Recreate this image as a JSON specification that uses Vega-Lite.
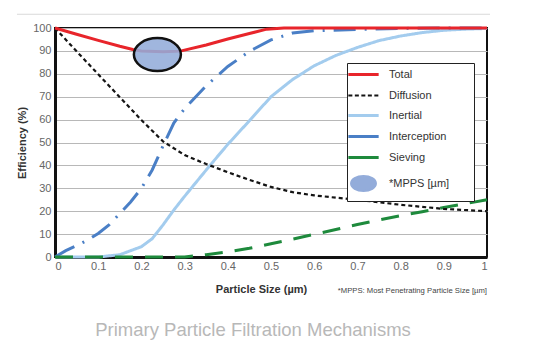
{
  "$schema": "https://vega.github.io/schema/vega-lite/v6.json",
  "width": 432,
  "height": 229,
  "autosize": {"type": "none"},
  "padding": {"left": 55, "top": 28, "right": 49, "bottom": 96},
  "background": "white",
  "config": {
    "view": {"stroke": "#111", "strokeWidth": 2},
    "font": "Liberation Sans",
    "axis": {
      "ticks": false,
      "domainColor": "#111",
      "domainWidth": 3,
      "labelFont": "Liberation Sans",
      "labelFontSize": 11,
      "labelColor": "#666",
      "titleFont": "Liberation Sans",
      "titleFontSize": 11,
      "titleFontWeight": "bold",
      "titleColor": "#333"
    },
    "axisX": {"grid": false, "labelPadding": 3, "titlePadding": 12},
    "axisY": {"grid": true, "gridColor": "#b8b8b8", "gridWidth": 1, "labelPadding": 4, "titlePadding": 5}
  },
  "title": {
    "text": "Primary Particle Filtration Mechanisms",
    "orient": "bottom",
    "anchor": "middle",
    "dx": -18,
    "offset": 26,
    "font": "Liberation Sans",
    "fontSize": 18.5,
    "fontWeight": "normal",
    "color": "#b8b8b8"
  },
  "datasets": {
    "curves": [
      {"s": "Total", "x": 0, "y": 100},
      {"s": "Total", "x": 0.05, "y": 97.3},
      {"s": "Total", "x": 0.1, "y": 94.6},
      {"s": "Total", "x": 0.15, "y": 92},
      {"s": "Total", "x": 0.18, "y": 90.6},
      {"s": "Total", "x": 0.2, "y": 90},
      {"s": "Total", "x": 0.25, "y": 89.6},
      {"s": "Total", "x": 0.29, "y": 89.9},
      {"s": "Total", "x": 0.35, "y": 92.6},
      {"s": "Total", "x": 0.4, "y": 95.2},
      {"s": "Total", "x": 0.45, "y": 97.6},
      {"s": "Total", "x": 0.49, "y": 99.5},
      {"s": "Total", "x": 0.53, "y": 100},
      {"s": "Total", "x": 0.7, "y": 100},
      {"s": "Total", "x": 1, "y": 100},
      {"s": "Diffusion", "x": 0, "y": 100},
      {"s": "Diffusion", "x": 0.05, "y": 89.8},
      {"s": "Diffusion", "x": 0.1, "y": 79.8},
      {"s": "Diffusion", "x": 0.15, "y": 69.8},
      {"s": "Diffusion", "x": 0.2, "y": 59.8},
      {"s": "Diffusion", "x": 0.25, "y": 50.5},
      {"s": "Diffusion", "x": 0.3, "y": 44.5},
      {"s": "Diffusion", "x": 0.35, "y": 40.6},
      {"s": "Diffusion", "x": 0.4, "y": 37},
      {"s": "Diffusion", "x": 0.45, "y": 33.7},
      {"s": "Diffusion", "x": 0.5, "y": 30.6},
      {"s": "Diffusion", "x": 0.55, "y": 28.3},
      {"s": "Diffusion", "x": 0.6, "y": 26.9},
      {"s": "Diffusion", "x": 0.65, "y": 25.9},
      {"s": "Diffusion", "x": 0.7, "y": 25},
      {"s": "Diffusion", "x": 0.8, "y": 22.8},
      {"s": "Diffusion", "x": 0.9, "y": 21},
      {"s": "Diffusion", "x": 1, "y": 20},
      {"s": "Inertial", "x": 0, "y": 0},
      {"s": "Inertial", "x": 0.1, "y": 0},
      {"s": "Inertial", "x": 0.15, "y": 1},
      {"s": "Inertial", "x": 0.2, "y": 4.5},
      {"s": "Inertial", "x": 0.225, "y": 8},
      {"s": "Inertial", "x": 0.25, "y": 14},
      {"s": "Inertial", "x": 0.275, "y": 20.5},
      {"s": "Inertial", "x": 0.3, "y": 26.5},
      {"s": "Inertial", "x": 0.35, "y": 38},
      {"s": "Inertial", "x": 0.4, "y": 49.2},
      {"s": "Inertial", "x": 0.45, "y": 59.5},
      {"s": "Inertial", "x": 0.5, "y": 70},
      {"s": "Inertial", "x": 0.55, "y": 77.5},
      {"s": "Inertial", "x": 0.6, "y": 83.5},
      {"s": "Inertial", "x": 0.65, "y": 88},
      {"s": "Inertial", "x": 0.7, "y": 91.5},
      {"s": "Inertial", "x": 0.75, "y": 94.5},
      {"s": "Inertial", "x": 0.8, "y": 96.5},
      {"s": "Inertial", "x": 0.85, "y": 98},
      {"s": "Inertial", "x": 0.9, "y": 99},
      {"s": "Inertial", "x": 0.95, "y": 99.5},
      {"s": "Inertial", "x": 1, "y": 99.8},
      {"s": "Interception", "x": 0, "y": 0},
      {"s": "Interception", "x": 0.025, "y": 2.8},
      {"s": "Interception", "x": 0.05, "y": 5},
      {"s": "Interception", "x": 0.075, "y": 7.3},
      {"s": "Interception", "x": 0.1, "y": 10.3},
      {"s": "Interception", "x": 0.125, "y": 14},
      {"s": "Interception", "x": 0.15, "y": 19},
      {"s": "Interception", "x": 0.175, "y": 24},
      {"s": "Interception", "x": 0.2, "y": 30},
      {"s": "Interception", "x": 0.225, "y": 38},
      {"s": "Interception", "x": 0.25, "y": 48.5},
      {"s": "Interception", "x": 0.275, "y": 58.5},
      {"s": "Interception", "x": 0.3, "y": 64.8},
      {"s": "Interception", "x": 0.35, "y": 74.8},
      {"s": "Interception", "x": 0.4, "y": 83.2},
      {"s": "Interception", "x": 0.45, "y": 89.8},
      {"s": "Interception", "x": 0.5, "y": 94.8},
      {"s": "Interception", "x": 0.55, "y": 97.8},
      {"s": "Interception", "x": 0.6, "y": 98.8},
      {"s": "Interception", "x": 0.7, "y": 99.4},
      {"s": "Interception", "x": 0.8, "y": 99.8},
      {"s": "Interception", "x": 0.9, "y": 100},
      {"s": "Interception", "x": 1, "y": 100},
      {"s": "Sieving", "x": 0, "y": 0},
      {"s": "Sieving", "x": 0.3, "y": 0},
      {"s": "Sieving", "x": 0.35, "y": 1},
      {"s": "Sieving", "x": 0.4, "y": 2.2},
      {"s": "Sieving", "x": 0.45, "y": 3.8},
      {"s": "Sieving", "x": 0.5, "y": 5.8},
      {"s": "Sieving", "x": 0.55, "y": 7.8},
      {"s": "Sieving", "x": 0.6, "y": 9.9},
      {"s": "Sieving", "x": 0.65, "y": 12},
      {"s": "Sieving", "x": 0.7, "y": 14.2},
      {"s": "Sieving", "x": 0.75, "y": 16.2},
      {"s": "Sieving", "x": 0.8, "y": 18},
      {"s": "Sieving", "x": 0.85, "y": 19.8},
      {"s": "Sieving", "x": 0.9, "y": 21.6},
      {"s": "Sieving", "x": 0.95, "y": 23.3},
      {"s": "Sieving", "x": 1, "y": 25}
    ],
    "mpps": [
      {"s": "*MPPS [µm]", "x": 0.237, "y": 88.4}
    ]
  },
  "layer": [
    {
      "data": {"name": "curves"},
      "transform": [{"filter": "datum.s === 'Sieving' || datum.s === 'Inertial' || datum.s === 'Interception'"}],
      "mark": {"type": "line", "strokeWidth": 3, "strokeCap": "butt", "clip": false},
      "encoding": {
        "x": {"field": "x", "type": "quantitative", "scale": {"domain": [0, 1], "nice": false, "zero": false},
          "axis": {"values": [0, 0.1, 0.2, 0.3, 0.4, 0.5, 0.6, 0.7, 0.8, 0.9, 1], "format": "~g", "title": "Particle Size (µm)", "titleX": 206}},
        "y": {"field": "y", "type": "quantitative", "scale": {"domain": [0, 100], "nice": false},
          "axis": {"values": [0, 10, 20, 30, 40, 50, 60, 70, 80, 90, 100], "title": "Efficiency (%)"}},
        "color": {
          "field": "s",
          "type": "nominal",
          "scale": {
            "domain": ["Total", "Diffusion", "Inertial", "Interception", "Sieving", "*MPPS [µm]"],
            "range": ["#e8252b", "#141414", "#a3ccee", "#4a7fc6", "#1e8a3c", "#93acda"]
          },
          "legend": {
            "title": "\u2003", "titleOrient": "right", "titleColor": "transparent", "titleFontSize": 11, "titlePadding": 19,
            "orient": "none", "legendX": 292, "legendY": 35,
            "strokeColor": "#222", "fillColor": "white", "padding": 6,
            "symbolSize": 300, "symbolOffset": 5, "labelOffset": 20, "rowPadding": 8,
            "labelFont": "Liberation Sans", "labelFontSize": 11, "labelColor": "#333",
            "encode": {"symbols": {"update": {
              "shape": {"signal": "datum.value === '*MPPS [µm]' ? 'M-1.45,0A1.45,0.88,0,1,1,1.45,0A1.45,0.88,0,1,1,-1.45,0Z' : 'M-1.75,0H1.75'"},
              "fill": {"signal": "datum.value === '*MPPS [µm]' ? '#a9bfe6' : 'transparent'"},
              "stroke": {"signal": "datum.value === '*MPPS [µm]' ? '#111111' : scale('color', datum.value)"},
              "strokeWidth": {"signal": "datum.value === '*MPPS [µm]' ? 1.8 : (datum.value === 'Diffusion' ? 2.2 : 3)"},
              "strokeDash": {"signal": "datum.value === 'Diffusion' ? [4, 2.5] : []"},
              "strokeOpacity": {"value": 1}, "fillOpacity": {"value": 1}, "opacity": {"value": 1}
            }}}
          }
        },
        "strokeDash": {
          "field": "s",
          "type": "nominal",
          "scale": {
            "domain": ["Inertial", "Interception", "Sieving"],
            "range": [[1, 0], [22, 9, 2, 9], [18, 12]]
          },
          "legend": null
        }
      }
    },
    {
      "data": {"name": "curves"},
      "transform": [{"filter": "datum.s === 'Diffusion'"}],
      "mark": {"type": "line", "strokeWidth": 2.2, "strokeDash": [4, 3], "clip": false},
      "encoding": {
        "x": {"field": "x", "type": "quantitative",
          "axis": {"values": [0, 0.1, 0.2, 0.3, 0.4, 0.5, 0.6, 0.7, 0.8, 0.9, 1], "format": "~g", "title": "Particle Size (µm)", "titleX": 206}},
        "y": {"field": "y", "type": "quantitative",
          "axis": {"values": [0, 10, 20, 30, 40, 50, 60, 70, 80, 90, 100], "title": "Efficiency (%)"}},
        "color": {"field": "s", "type": "nominal",
          "legend": {
            "title": "\u2003", "titleOrient": "right", "titleColor": "transparent", "titleFontSize": 11, "titlePadding": 19,
            "orient": "none", "legendX": 292, "legendY": 35,
            "strokeColor": "#222", "fillColor": "white", "padding": 6,
            "symbolSize": 300, "symbolOffset": 5, "labelOffset": 20, "rowPadding": 8,
            "labelFont": "Liberation Sans", "labelFontSize": 11, "labelColor": "#333",
            "encode": {"symbols": {"update": {
              "shape": {"signal": "datum.value === '*MPPS [µm]' ? 'M-1.45,0A1.45,0.88,0,1,1,1.45,0A1.45,0.88,0,1,1,-1.45,0Z' : 'M-1.75,0H1.75'"},
              "fill": {"signal": "datum.value === '*MPPS [µm]' ? '#a9bfe6' : 'transparent'"},
              "stroke": {"signal": "datum.value === '*MPPS [µm]' ? '#111111' : scale('color', datum.value)"},
              "strokeWidth": {"signal": "datum.value === '*MPPS [µm]' ? 1.8 : (datum.value === 'Diffusion' ? 2.2 : 3)"},
              "strokeDash": {"signal": "datum.value === 'Diffusion' ? [4, 2.5] : []"},
              "strokeOpacity": {"value": 1}, "fillOpacity": {"value": 1}, "opacity": {"value": 1}
            }}}
          }}
      }
    },
    {
      "data": {"name": "curves"},
      "transform": [{"filter": "datum.s === 'Total'"}],
      "mark": {"type": "line", "strokeWidth": 3, "clip": false},
      "encoding": {
        "x": {"field": "x", "type": "quantitative",
          "axis": {"values": [0, 0.1, 0.2, 0.3, 0.4, 0.5, 0.6, 0.7, 0.8, 0.9, 1], "format": "~g", "title": "Particle Size (µm)", "titleX": 206}},
        "y": {"field": "y", "type": "quantitative",
          "axis": {"values": [0, 10, 20, 30, 40, 50, 60, 70, 80, 90, 100], "title": "Efficiency (%)"}},
        "color": {"field": "s", "type": "nominal",
          "legend": {
            "title": "\u2003", "titleOrient": "right", "titleColor": "transparent", "titleFontSize": 11, "titlePadding": 19,
            "orient": "none", "legendX": 292, "legendY": 35,
            "strokeColor": "#222", "fillColor": "white", "padding": 6,
            "symbolSize": 300, "symbolOffset": 5, "labelOffset": 20, "rowPadding": 8,
            "labelFont": "Liberation Sans", "labelFontSize": 11, "labelColor": "#333",
            "encode": {"symbols": {"update": {
              "shape": {"signal": "datum.value === '*MPPS [µm]' ? 'M-1.45,0A1.45,0.88,0,1,1,1.45,0A1.45,0.88,0,1,1,-1.45,0Z' : 'M-1.75,0H1.75'"},
              "fill": {"signal": "datum.value === '*MPPS [µm]' ? '#a9bfe6' : 'transparent'"},
              "stroke": {"signal": "datum.value === '*MPPS [µm]' ? '#111111' : scale('color', datum.value)"},
              "strokeWidth": {"signal": "datum.value === '*MPPS [µm]' ? 1.8 : (datum.value === 'Diffusion' ? 2.2 : 3)"},
              "strokeDash": {"signal": "datum.value === 'Diffusion' ? [4, 2.5] : []"},
              "strokeOpacity": {"value": 1}, "fillOpacity": {"value": 1}, "opacity": {"value": 1}
            }}}
          }}
      }
    },
    {
      "data": {"name": "mpps"},
      "mark": {
        "type": "point",
        "filled": true,
        "shape": "M-1,0A1,0.7,0,1,1,1,0A1,0.7,0,1,1,-1,0Z",
        "size": 2209,
        "stroke": "#111",
        "strokeWidth": 2.5,
        "opacity": 1,
        "fillOpacity": 0.88
      },
      "encoding": {
        "x": {"field": "x", "type": "quantitative",
          "axis": {"values": [0, 0.1, 0.2, 0.3, 0.4, 0.5, 0.6, 0.7, 0.8, 0.9, 1], "format": "~g", "title": "Particle Size (µm)", "titleX": 206}},
        "y": {"field": "y", "type": "quantitative",
          "axis": {"values": [0, 10, 20, 30, 40, 50, 60, 70, 80, 90, 100], "title": "Efficiency (%)"}},
        "color": {"field": "s", "type": "nominal",
          "legend": {
            "title": "\u2003", "titleOrient": "right", "titleColor": "transparent", "titleFontSize": 11, "titlePadding": 19,
            "orient": "none", "legendX": 292, "legendY": 35,
            "strokeColor": "#222", "fillColor": "white", "padding": 6,
            "symbolSize": 300, "symbolOffset": 5, "labelOffset": 20, "rowPadding": 8,
            "labelFont": "Liberation Sans", "labelFontSize": 11, "labelColor": "#333",
            "encode": {"symbols": {"update": {
              "shape": {"signal": "datum.value === '*MPPS [µm]' ? 'M-1.45,0A1.45,0.88,0,1,1,1.45,0A1.45,0.88,0,1,1,-1.45,0Z' : 'M-1.75,0H1.75'"},
              "fill": {"signal": "datum.value === '*MPPS [µm]' ? '#a9bfe6' : 'transparent'"},
              "stroke": {"signal": "datum.value === '*MPPS [µm]' ? '#111111' : scale('color', datum.value)"},
              "strokeWidth": {"signal": "datum.value === '*MPPS [µm]' ? 1.8 : (datum.value === 'Diffusion' ? 2.2 : 3)"},
              "strokeDash": {"signal": "datum.value === 'Diffusion' ? [4, 2.5] : []"},
              "strokeOpacity": {"value": 1}, "fillOpacity": {"value": 1}, "opacity": {"value": 1}
            }}}
          }}
      }
    },
    {
      "data": {"values": [{"note": "*MPPS: Most Penetrating Particle Size [µm]"}]},
      "mark": {
        "type": "text",
        "align": "right",
        "baseline": "middle",
        "dy": 34,
        "font": "Liberation Sans",
        "fontSize": 7.7,
        "color": "#444"
      },
      "encoding": {
        "x": {"datum": 1, "type": "quantitative",
          "axis": {"values": [0, 0.1, 0.2, 0.3, 0.4, 0.5, 0.6, 0.7, 0.8, 0.9, 1], "format": "~g", "title": "Particle Size (µm)", "titleX": 206}},
        "y": {"datum": 0, "type": "quantitative",
          "axis": {"values": [0, 10, 20, 30, 40, 50, 60, 70, 80, 90, 100], "title": "Efficiency (%)"}},
        "text": {"field": "note", "type": "nominal"}
      }
    },
    {
      "data": {"values": [{"k": "rule"}]},
      "mark": {"type": "rule", "color": "#d9d9d9", "strokeWidth": 1, "clip": false},
      "encoding": {
        "x": {"datum": -0.088, "type": "quantitative",
          "axis": {"values": [0, 0.1, 0.2, 0.3, 0.4, 0.5, 0.6, 0.7, 0.8, 0.9, 1], "format": "~g", "title": "Particle Size (µm)", "titleX": 206}},
        "x2": {"datum": 1.007},
        "y": {"datum": 106, "type": "quantitative",
          "axis": {"values": [0, 10, 20, 30, 40, 50, 60, 70, 80, 90, 100], "title": "Efficiency (%)"}}
      }
    }
  ]
}
